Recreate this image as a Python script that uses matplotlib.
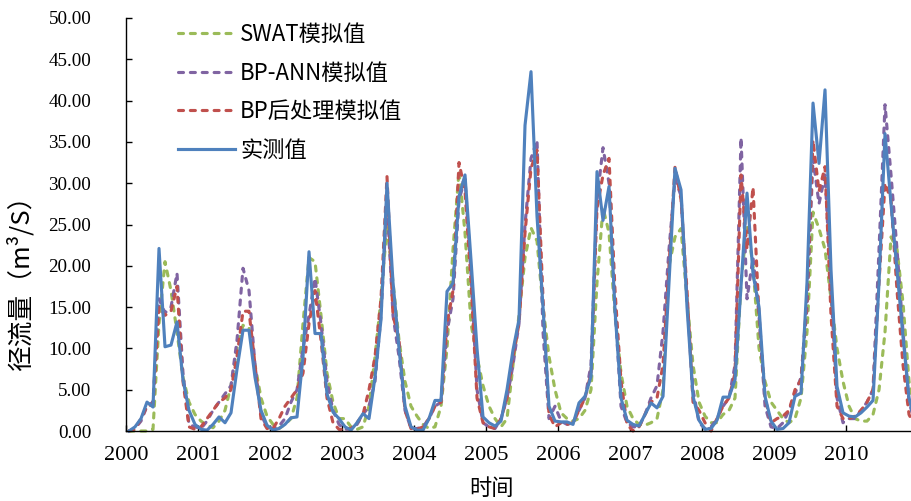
import numpy as np
import matplotlib
matplotlib.use('Agg')
import matplotlib.pyplot as plt
from matplotlib.ticker import FormatStrFormatter

# monthly runoff 2000-2010 (m3/s), one row per year
observed = [
    0.0, 0.5, 1.5, 3.5, 2.9, 22.1, 10.2, 10.4, 13.2, 6.2, 2.5, 0.8,
    0.2, 0.1, 0.8, 1.7, 1.0, 2.2, 7.5, 12.2, 12.2, 6.5, 2.5, 0.7,
    0.1, 0.3, 0.8, 1.6, 1.7, 9.0, 21.7, 11.8, 11.8, 4.5, 2.3, 1.5,
    0.5, 0.1, 1.0, 2.1, 1.5, 6.5, 13.5, 30.0, 18.0, 10.0, 3.0, 0.5,
    0.1, 0.1, 1.5, 3.7, 3.7, 16.9, 17.9, 28.4, 31.0, 20.7, 10.0, 1.7,
    1.0, 0.6, 1.2, 5.0, 9.8, 13.5, 37.0, 43.5, 26.0, 15.0, 3.0, 1.2,
    1.1, 1.1, 0.8, 3.4, 4.2, 6.6, 31.4, 25.5, 29.6, 14.6, 4.0, 1.3,
    0.8, 0.6, 2.0, 3.4, 2.8, 4.2, 18.0, 31.8, 29.2, 15.0, 4.2, 1.3,
    0.2, 0.3, 1.3, 4.1, 4.1, 6.2, 17.5, 28.8, 19.0, 15.0, 4.2, 1.2,
    0.2, 0.3, 1.0, 4.2, 4.6, 18.0, 39.7, 32.4, 41.3, 19.5, 5.4, 2.2,
    1.8, 1.7, 2.2, 2.9, 3.7, 18.0, 36.0, 27.5, 19.5, 11.4, 4.0, 1.0,
]

swat = [
    0.0, 0.0, 0.0, 0.0, 0.2, 13.0, 20.5, 17.0, 12.0, 6.5, 3.5, 2.0,
    1.2, 0.7, 0.4, 1.2, 2.5, 5.5, 10.0, 12.8, 12.5, 8.0, 4.0, 1.8,
    0.8, 0.3, 0.8, 1.5, 4.0, 13.0, 21.0, 20.5, 14.0, 7.0, 3.5, 1.5,
    1.5, 0.5, 0.2, 0.5, 3.0, 9.0, 16.0, 25.0, 18.0, 11.0, 6.0, 3.0,
    1.8, 0.8, 0.3, 0.5, 3.0, 10.0, 22.0, 31.5, 24.0, 13.0, 9.0, 5.5,
    3.0, 1.5, 0.5, 1.5, 8.0, 14.0, 21.0, 24.6, 23.0, 15.0, 9.0, 5.0,
    2.2, 1.5, 1.2, 1.5, 2.5, 5.0, 18.0, 27.0, 24.0, 14.0, 7.0, 3.0,
    1.5, 0.8, 0.7, 1.0, 1.5, 5.0, 20.0, 23.5, 24.5, 16.0, 8.0, 3.5,
    1.8, 1.0, 1.0, 2.0, 2.5, 4.0, 18.0, 25.0, 20.0, 10.0, 6.0, 3.5,
    2.5, 1.5, 1.0, 1.5, 4.0, 12.0, 26.5, 24.5, 22.0, 16.0, 10.0, 6.0,
    3.0, 1.5, 1.2, 1.2, 2.0, 5.0, 12.0, 23.5, 22.0, 15.5, 6.0, 2.5,
]

bp_ann = [
    0.0, 0.3, 1.2, 3.0, 3.5, 16.0, 14.3, 15.0, 19.1, 7.0, 0.8, 0.5,
    0.3, 1.2, 2.5, 3.5, 4.5, 5.5, 11.0, 19.7, 17.0, 8.0, 2.0, 0.5,
    0.3, 0.6, 1.5, 3.5, 5.0, 10.0, 14.0, 18.5, 13.0, 6.0, 2.5, 0.8,
    0.2, 0.3, 0.8, 2.0, 3.0, 6.0, 14.0, 28.0, 14.0, 9.0, 2.5, 0.3,
    0.3, 0.5, 1.5, 3.0, 3.5, 12.0, 16.0, 28.0, 30.5, 19.0, 5.0, 1.0,
    0.5, 0.3, 1.5, 4.0, 8.0, 13.0, 25.0, 33.0, 35.2, 12.0, 1.5, 3.0,
    1.2, 0.8, 1.0, 2.5, 4.0, 8.0, 28.0, 34.3, 30.0, 15.0, 3.0, 1.0,
    0.5, 0.5, 2.0, 4.0, 5.5, 12.0, 22.0, 30.5, 28.5, 16.0, 5.0, 1.0,
    0.3, 0.5, 1.5, 3.0, 4.0, 8.0, 35.5, 16.0, 21.0, 14.0, 3.0, 0.5,
    0.3, 1.0, 2.5, 4.5, 6.5, 15.0, 33.0, 27.5, 31.0, 17.0, 4.0, 1.0,
    1.5, 1.5, 2.5, 3.5, 5.0, 22.0, 39.5, 31.0, 22.0, 12.0, 3.5, 1.0,
]

bp_post = [
    0.0, 0.2, 1.5, 3.0, 3.2, 15.0, 14.0, 14.5, 17.5, 6.0, 0.5, 0.2,
    0.5, 1.5, 2.5, 3.5, 4.0, 5.0, 9.0, 14.5, 14.5, 8.0, 1.5, 0.3,
    0.3, 1.5, 3.0, 4.0, 5.0, 7.0, 13.0, 17.0, 11.0, 4.0, 1.0, 0.2,
    0.2, 0.3, 1.0, 2.0, 5.0, 9.0, 16.0, 30.8, 14.0, 11.0, 2.5, 0.3,
    0.2, 0.5, 1.5, 3.0, 3.5, 13.0, 17.0, 32.5, 29.0, 18.0, 4.0, 1.0,
    0.5, 0.3, 1.5, 4.0, 9.0, 13.0, 24.0, 31.8, 34.0, 16.0, 2.0, 0.5,
    1.0, 0.8, 1.0, 2.5, 4.0, 7.0, 27.0, 31.0, 33.0, 17.0, 6.0, 0.8,
    0.0, 0.5, 2.0, 3.5, 4.0, 8.0, 20.0, 32.0, 28.0, 17.0, 3.5, 2.5,
    1.0, 0.0, 1.5, 3.0, 4.0, 7.0, 31.0, 22.0, 29.5, 14.0, 4.0, 1.0,
    1.5, 1.8, 2.5, 5.0, 6.2, 16.0, 35.2, 29.0, 32.0, 14.0, 3.0, 1.5,
    1.5, 1.8, 2.5, 3.5, 5.0, 18.0, 30.0, 28.0, 17.0, 8.0, 2.0, 0.5,
]

years = ['2000', '2001', '2002', '2003', '2004', '2005',
         '2006', '2007', '2008', '2009', '2010']

cjk = ['Noto Sans CJK SC', 'DejaVu Sans']
months = np.arange(len(observed))

fig = plt.figure(figsize=(9.11, 5.01), dpi=100)
ax = fig.add_axes([126 / 911, 70 / 501, 785 / 911, 413 / 501])

dash = (0, (1.6, 2.2))
ax.plot(months, swat, color='#9BBB59', lw=2.25, ls=dash, dash_capstyle='round',
        clip_on=False, label='SWAT模拟值')
ax.plot(months, bp_ann, color='#8064A2', lw=2.25, ls=dash, dash_capstyle='round',
        clip_on=False, label='BP-ANN模拟值')
ax.plot(months, bp_post, color='#C0504D', lw=2.25, ls=dash, dash_capstyle='round',
        clip_on=False, label='BP后处理模拟值')
ax.plot(months, observed, color='#4F81BD', lw=2.25, clip_on=False, label='实测值')

ax.set_xlim(-0.5, 130.33)
ax.set_ylim(0, 50)
ax.set_yticks(np.arange(0, 51, 5))
ax.yaxis.set_major_formatter(FormatStrFormatter('%.2f'))
ax.set_xticks(np.arange(len(years)) * 12 - 0.5)
ax.set_xticklabels(years)

for s in ['top', 'right']:
    ax.spines[s].set_visible(False)
for s in ['left', 'bottom']:
    ax.spines[s].set_linewidth(1.0)
    ax.spines[s].set_color('#000000')

ax.tick_params(axis='both', direction='in', length=4.3, width=1.0)
ax.tick_params(axis='y', pad=25, labelsize=13.8)
ax.tick_params(axis='x', pad=11, labelsize=16)
for lab in ax.get_xticklabels() + ax.get_yticklabels():
    lab.set_family('Liberation Serif')

ax.set_ylabel('径流量（m³/S）', fontsize=18.5, family=cjk)
ax.yaxis.set_label_coords(-0.116, 0.373)
ax.set_xlabel('时间', fontsize=16, family=cjk)
ax.xaxis.set_label_coords(0.465, -0.111)

ax.legend(loc='upper left', bbox_to_anchor=(178 / 911, 1 - 23 / 501),
          bbox_transform=fig.transFigure, frameon=False, borderpad=0,
          borderaxespad=0, handlelength=2.55, handletextpad=0.25,
          labelspacing=0.7, prop={'family': cjk, 'size': 16})

fig.savefig('out.png', dpi=100)
